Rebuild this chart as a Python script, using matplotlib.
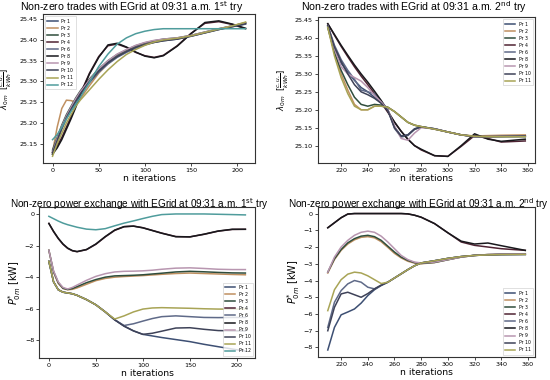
import matplotlib
matplotlib.use('Agg')
import matplotlib.pyplot as plt

# colours per prosumer
colors = {'Pr 1': '#3d4f73', 'Pr 2': '#c09060', 'Pr 3': '#2f4d3c', 'Pr 4': '#4f2333',
          'Pr 6': '#5f6a88', 'Pr 8': '#18181c', 'Pr 9': '#b896b0', 'Pr 10': '#3e4258',
          'Pr 11': '#a8a456', 'Pr 12': '#4f9c9c'}

# ---- 1st try: iterations 0..209 ----
x1 = [0, 5, 10, 15, 20, 25, 30, 40, 50, 60, 70, 80, 90, 100, 110, 120, 135, 150, 165, 180, 195, 209]

lam1 = {
    'Pr 1':  [25.13, 25.16, 25.19, 25.215, 25.235, 25.255, 25.272, 25.302, 25.327, 25.347, 25.362, 25.373, 25.383, 25.39, 25.395, 25.399, 25.403, 25.41, 25.418, 25.426, 25.433, 25.44],
    'Pr 2':  [25.13, 25.19, 25.235, 25.255, 25.254, 25.25, 25.258, 25.29, 25.32, 25.343, 25.36, 25.372, 25.382, 25.39, 25.396, 25.4, 25.404, 25.41, 25.418, 25.426, 25.434, 25.442],
    'Pr 3':  [25.135, 25.165, 25.195, 25.22, 25.24, 25.26, 25.277, 25.306, 25.33, 25.35, 25.365, 25.376, 25.386, 25.393, 25.398, 25.402, 25.405, 25.411, 25.419, 25.427, 25.434, 25.441],
    'Pr 4':  [25.13, 25.145, 25.165, 25.19, 25.215, 25.24, 25.27, 25.32, 25.36, 25.386, 25.39, 25.382, 25.37, 25.362, 25.358, 25.363, 25.386, 25.416, 25.44, 25.444, 25.437, 25.427],
    'Pr 6':  [25.125, 25.155, 25.185, 25.21, 25.23, 25.25, 25.268, 25.297, 25.322, 25.342, 25.358, 25.37, 25.38, 25.388, 25.394, 25.398, 25.402, 25.409, 25.417, 25.425, 25.432, 25.438],
    'Pr 8':  [25.125, 25.14, 25.16, 25.185, 25.21, 25.237, 25.267, 25.318, 25.358, 25.388, 25.392, 25.383, 25.371, 25.361, 25.357, 25.362, 25.385, 25.415, 25.442, 25.446, 25.438, 25.428],
    'Pr 9':  [25.13, 25.162, 25.192, 25.217, 25.238, 25.258, 25.275, 25.304, 25.33, 25.35, 25.366, 25.377, 25.387, 25.394, 25.399, 25.402, 25.405, 25.411, 25.419, 25.427, 25.434, 25.44],
    'Pr 10': [25.128, 25.158, 25.188, 25.213, 25.233, 25.252, 25.27, 25.3, 25.325, 25.345, 25.36, 25.372, 25.382, 25.389, 25.394, 25.398, 25.402, 25.409, 25.417, 25.425, 25.432, 25.439],
    'Pr 11': [25.12, 25.15, 25.175, 25.2, 25.22, 25.24, 25.255, 25.28, 25.305, 25.328, 25.348, 25.365, 25.377, 25.387, 25.395, 25.4, 25.404, 25.41, 25.418, 25.426, 25.434, 25.443],
    'Pr 12': [25.16, 25.172, 25.19, 25.21, 25.228, 25.245, 25.262, 25.298, 25.336, 25.366, 25.39, 25.405, 25.415, 25.421, 25.425, 25.427, 25.427, 25.427, 25.427, 25.427, 25.427, 25.427],
}

pow1 = {
    'Pr 1':  [-3.0, -4.3, -4.8, -4.95, -5.0, -5.05, -5.15, -5.42, -5.75, -6.2, -6.7, -7.1, -7.4, -7.62, -7.72, -7.82, -7.95, -8.08, -8.25, -8.4, -8.55, -8.68],
    'Pr 2':  [-2.3, -3.7, -4.4, -4.72, -4.8, -4.77, -4.68, -4.45, -4.22, -4.08, -4.0, -3.96, -3.93, -3.9, -3.86, -3.82, -3.77, -3.74, -3.77, -3.8, -3.83, -3.85],
    'Pr 3':  [-2.3, -3.65, -4.35, -4.7, -4.78, -4.72, -4.6, -4.35, -4.15, -4.0, -3.92, -3.9, -3.88, -3.85, -3.8, -3.75, -3.67, -3.63, -3.66, -3.7, -3.73, -3.74],
    'Pr 4':  [-0.6, -1.12, -1.56, -1.92, -2.18, -2.33, -2.39, -2.26, -1.92, -1.45, -1.04, -0.81, -0.77, -0.87, -1.04, -1.21, -1.43, -1.45, -1.29, -1.09, -0.98, -0.97],
    'Pr 6':  [-3.0, -4.3, -4.8, -4.95, -5.0, -5.05, -5.15, -5.42, -5.75, -6.2, -6.7, -7.06, -6.95, -6.78, -6.62, -6.5, -6.45, -6.5, -6.55, -6.56, -6.55, -6.55],
    'Pr 8':  [-0.6, -1.1, -1.54, -1.9, -2.16, -2.32, -2.38, -2.25, -1.9, -1.43, -1.02, -0.8, -0.77, -0.88, -1.05, -1.22, -1.44, -1.45, -1.28, -1.08, -0.97, -0.97],
    'Pr 9':  [-2.3, -3.6, -4.3, -4.65, -4.75, -4.65, -4.5, -4.2, -3.95, -3.78, -3.67, -3.63, -3.62, -3.6, -3.56, -3.5, -3.43, -3.41, -3.45, -3.5, -3.52, -3.52],
    'Pr 10': [-3.0, -4.3, -4.8, -4.95, -5.0, -5.05, -5.15, -5.42, -5.75, -6.2, -6.7, -7.1, -7.4, -7.62, -7.55, -7.42, -7.22, -7.2, -7.3, -7.38, -7.4, -7.4],
    'Pr 11': [-3.0, -4.3, -4.8, -4.95, -5.0, -5.05, -5.15, -5.42, -5.75, -6.2, -6.65, -6.45, -6.2, -6.02, -5.95, -5.93, -5.95, -5.97, -6.0, -6.02, -6.02, -6.02],
    'Pr 12': [-0.15, -0.3, -0.45, -0.58, -0.68, -0.76, -0.84, -0.96, -1.0, -0.93, -0.75, -0.58, -0.44, -0.29, -0.15, -0.04, 0.0, 0.0, 0.0, -0.02, -0.04, -0.06],
}

# ---- 2nd try: iterations 210..358 ----
x2 = [210, 215, 220, 225, 230, 235, 240, 245, 250, 255, 260, 265, 270, 275, 280, 290, 300, 310, 320, 330, 340, 358]

lam2 = {
    'Pr 1':  [25.435, 25.37, 25.33, 25.305, 25.282, 25.262, 25.25, 25.235, 25.22, 25.2, 25.152, 25.127, 25.13, 25.147, 25.153, 25.147, 25.138, 25.13, 25.125, 25.125, 25.126, 25.127],
    'Pr 2':  [25.43, 25.36, 25.3, 25.255, 25.215, 25.2, 25.2, 25.21, 25.21, 25.207, 25.195, 25.18, 25.165, 25.157, 25.153, 25.146, 25.138, 25.13, 25.127, 25.128, 25.129, 25.13],
    'Pr 3':  [25.43, 25.36, 25.31, 25.27, 25.235, 25.215, 25.21, 25.215, 25.213, 25.207, 25.195, 25.18, 25.165, 25.157, 25.153, 25.146, 25.138, 25.13, 25.126, 25.125, 25.125, 25.125],
    'Pr 4':  [25.44, 25.408, 25.377, 25.348, 25.32, 25.294, 25.27, 25.245, 25.22, 25.193, 25.165, 25.14, 25.118, 25.1, 25.088, 25.072, 25.07, 25.098, 25.128, 25.12, 25.11, 25.113],
    'Pr 6':  [25.435, 25.38, 25.34, 25.31, 25.285, 25.255, 25.25, 25.245, 25.225, 25.2, 25.148, 25.124, 25.128, 25.145, 25.152, 25.147, 25.138, 25.13, 25.125, 25.125, 25.125, 25.126],
    'Pr 8':  [25.44, 25.41, 25.38, 25.352, 25.325, 25.3, 25.277, 25.252, 25.226, 25.196, 25.166, 25.14, 25.118, 25.1, 25.09, 25.072, 25.07, 25.1, 25.133, 25.118, 25.112, 25.118],
    'Pr 9':  [25.435, 25.37, 25.32, 25.3, 25.29, 25.28, 25.262, 25.24, 25.222, 25.2, 25.155, 25.12, 25.115, 25.135, 25.15, 25.147, 25.138, 25.13, 25.125, 25.125, 25.126, 25.127],
    'Pr 10': [25.435, 25.375, 25.335, 25.3, 25.27, 25.25, 25.242, 25.232, 25.218, 25.198, 25.15, 25.126, 25.13, 25.146, 25.152, 25.147, 25.138, 25.13, 25.125, 25.125, 25.126, 25.127],
    'Pr 11': [25.43, 25.35, 25.29, 25.245, 25.21, 25.2, 25.2, 25.21, 25.21, 25.207, 25.195, 25.18, 25.165, 25.157, 25.153, 25.146, 25.138, 25.13, 25.126, 25.125, 25.125, 25.125],
}

pow2 = {
    'Pr 1':  [-8.15, -6.8, -6.05, -5.88, -5.7, -5.35, -4.9, -4.55, -4.3, -4.1, -3.85, -3.6, -3.35, -3.12, -2.95, -2.82, -2.68, -2.57, -2.5, -2.47, -2.45, -2.44],
    'Pr 2':  [-3.55, -2.75, -2.2, -1.82, -1.57, -1.42, -1.38, -1.45, -1.68, -2.02, -2.38, -2.65, -2.85, -2.96, -3.0, -2.93, -2.76, -2.6, -2.5, -2.45, -2.43, -2.43],
    'Pr 3':  [-3.5, -2.7, -2.15, -1.75, -1.5, -1.35, -1.3, -1.38, -1.6, -1.95, -2.3, -2.6, -2.8, -2.93, -2.98, -2.92, -2.76, -2.6, -2.5, -2.45, -2.42, -2.42],
    'Pr 4':  [-0.85, -0.55, -0.25, -0.03, 0.0, 0.0, 0.0, 0.0, 0.0, 0.0, 0.0, 0.0, -0.02, -0.1, -0.22, -0.6, -1.15, -1.7, -1.9, -2.0, -2.1, -2.2],
    'Pr 6':  [-6.8, -5.3, -4.6, -4.2, -4.0, -4.1, -4.4, -4.5, -4.28, -4.1, -3.85, -3.6, -3.35, -3.12, -2.95, -2.82, -2.68, -2.57, -2.5, -2.47, -2.45, -2.44],
    'Pr 8':  [-0.85, -0.55, -0.25, -0.03, 0.0, 0.0, 0.0, 0.0, 0.0, 0.0, 0.0, 0.0, -0.02, -0.1, -0.22, -0.6, -1.15, -1.65, -1.82, -1.76, -1.92, -2.2],
    'Pr 9':  [-3.5, -2.6, -2.0, -1.6, -1.3, -1.12, -1.05, -1.12, -1.35, -1.7, -2.1, -2.5, -2.75, -2.9, -2.95, -2.9, -2.75, -2.6, -2.5, -2.45, -2.42, -2.4],
    'Pr 10': [-7.0, -5.6, -4.8, -4.7, -4.85, -5.0, -4.78, -4.5, -4.28, -4.1, -3.85, -3.6, -3.35, -3.12, -2.95, -2.82, -2.68, -2.57, -2.5, -2.47, -2.45, -2.44],
    'Pr 11': [-5.8, -4.55, -3.95, -3.62, -3.5, -3.55, -3.72, -3.95, -4.18, -4.1, -3.85, -3.6, -3.35, -3.12, -2.95, -2.82, -2.68, -2.57, -2.5, -2.47, -2.45, -2.44],
}

titles = ['Non-zero trades with EGrid at 09:31 a.m. 1$^{\\rm st}$ try',
          'Non-zero trades with EGrid at 09:31 a.m. 2$^{\\rm nd}$ try',
          'Non-zero power exchange with EGrid at 09:31 a.m. 1$^{\\rm st}$ try',
          'Non-zero power exchange with EGrid at 09:31 a.m. 2$^{\\rm nd}$ try']
lam_label = r'$\lambda_{0m}$  $[\frac{c.u.}{kWh}]$'
pow_label = r'$P^{*}_{0m}$ [kW]'

fig = plt.figure(figsize=(5.5, 3.8), dpi=100)
fig.patch.set_facecolor('white')

panels = [
    ([0.078, 0.571, 0.386, 0.392], x1, lam1, lam_label, 'upper left'),
    ([0.578, 0.571, 0.395, 0.384], x2, lam2, lam_label, 'upper right'),
    ([0.071, 0.058, 0.393, 0.397], x1, pow1, pow_label, 'lower right'),
    ([0.578, 0.061, 0.395, 0.395], x2, pow2, pow_label, 'lower right'),
]
title_pos = [(0.24, 0.982, 7.6), (0.752, 0.982, 7.6), (0.253, 0.462, 7.2), (0.76, 0.462, 7.2)]

for i, (rect, xs, series, ylab, loc) in enumerate(panels):
    ax = fig.add_axes(rect)
    for name, vals in series.items():
        ax.plot(xs, vals, color=colors[name], linewidth=1.1, label=name)
    if xs[0] == 0:
        ax.set_xticks([0, 50, 100, 150, 200])
    else:
        ax.set_xticks([220, 240, 260, 280, 300, 320, 340, 360])
    if i < 2:
        ax.set_ylabel(ylab, fontsize=6)
        ax.yaxis.set_label_coords(-0.135 if i == 0 else -0.125, 0.5)
    else:
        ax.set_yticks([0, -2, -4, -6, -8] if i == 2 else [0, -1, -2, -3, -4, -5, -6, -7, -8])
        ax.set_ylabel(ylab, fontsize=7, labelpad=1)
    ax.set_xlabel('n iterations', fontsize=6.7, labelpad=1)
    ax.tick_params(labelsize=4.6, length=2, width=0.5, pad=1.5)
    for sp in ax.spines.values():
        sp.set_linewidth(0.8)
        sp.set_color('#333333')
    leg = ax.legend(loc=loc, fontsize=3.3, handlelength=2.2, labelspacing=0.45,
                    borderpad=0.5, frameon=True, fancybox=False)
    leg.get_frame().set_linewidth(0.4)
    leg.get_frame().set_edgecolor('#bbbbbb')
    tx, ty, fs = title_pos[i]
    fig.text(tx, ty, titles[i], ha='center', va='center', fontsize=fs, family='Liberation Sans')

fig.savefig('out.png', dpi=100)
